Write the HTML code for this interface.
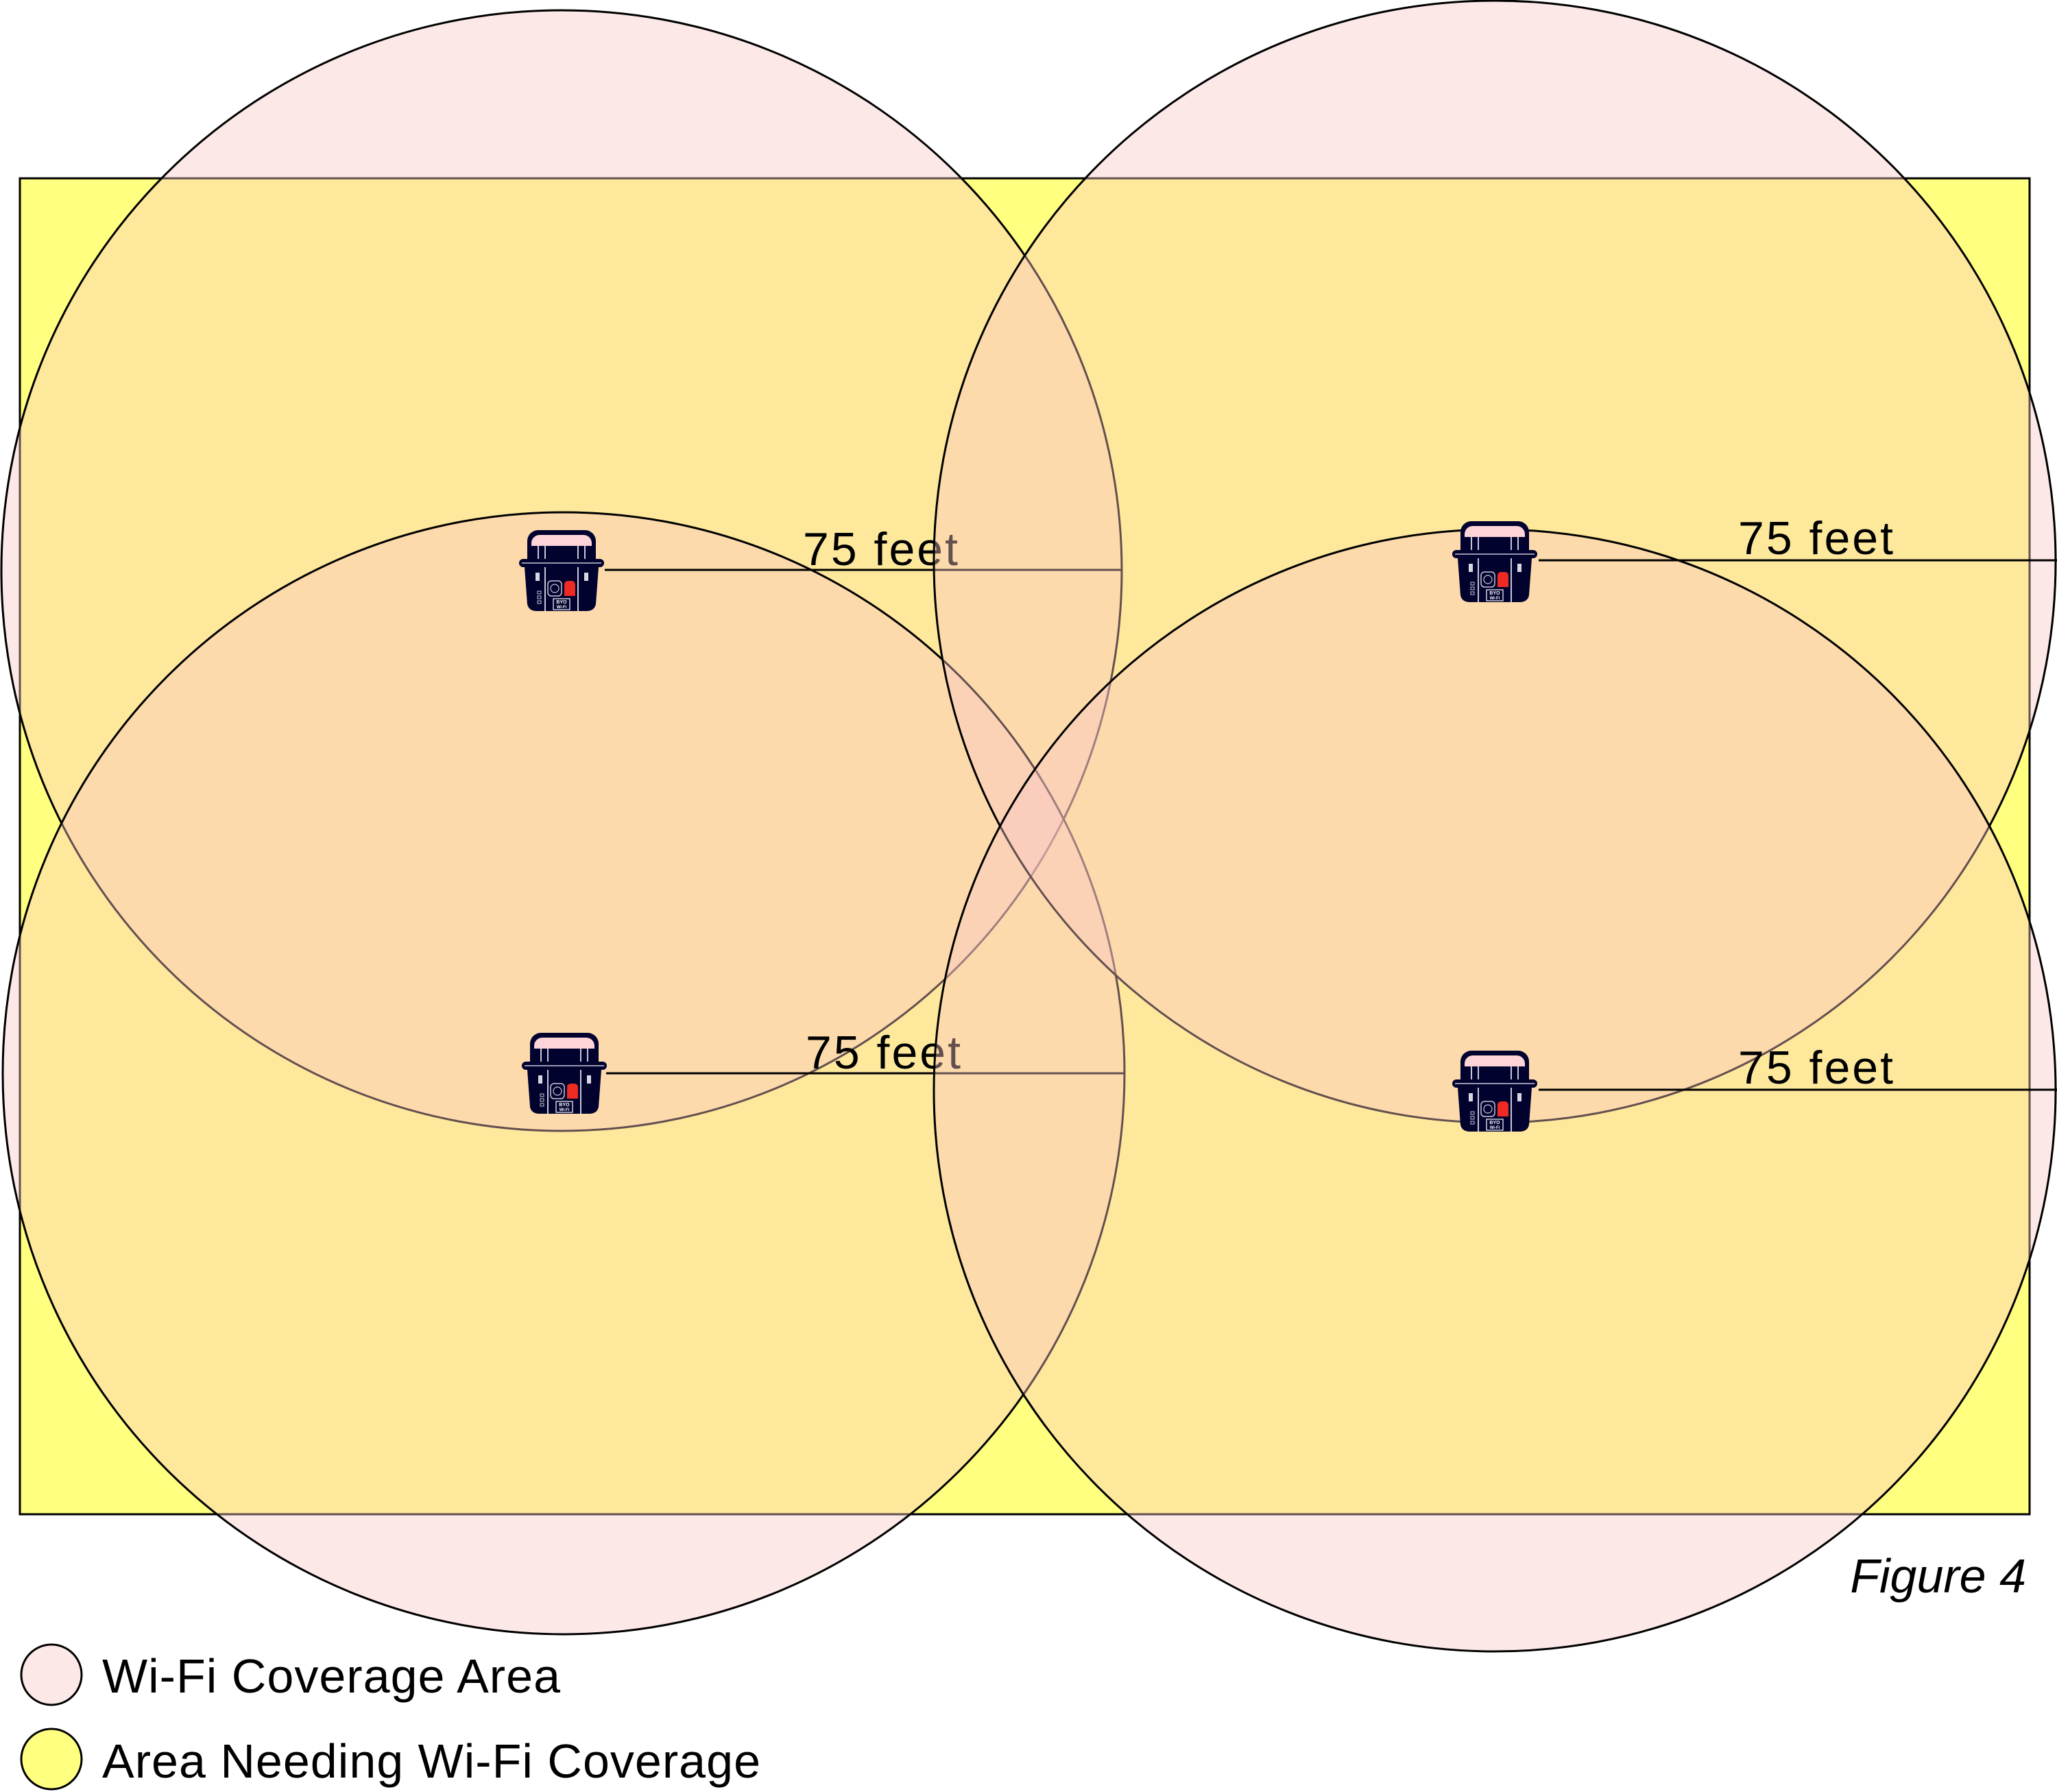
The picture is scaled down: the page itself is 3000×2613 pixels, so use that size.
<!DOCTYPE html>
<html><head><meta charset="utf-8"><style>html,body{margin:0;padding:0;background:#fff}svg{display:block}</style></head>
<body>
<svg width="3000" height="2613" viewBox="0 0 3000 2613" xmlns="http://www.w3.org/2000/svg" font-family="Liberation Sans, sans-serif">
<defs>
<g id="dev">
  <rect x="14" y="2" width="100" height="42" rx="16" fill="#02022e"/>
  <rect x="20" y="9" width="88" height="30" rx="12" fill="#fdd4d8"/>
  <rect x="14" y="25" width="100" height="22" fill="#02022e"/>
  <line x1="30" y1="25" x2="30" y2="46" stroke="#c8c8d8" stroke-width="2"/>
  <line x1="40" y1="25" x2="40" y2="46" stroke="#c8c8d8" stroke-width="2"/>
  <line x1="88" y1="25" x2="88" y2="46" stroke="#c8c8d8" stroke-width="2"/>
  <line x1="98" y1="25" x2="98" y2="46" stroke="#c8c8d8" stroke-width="2"/>
  <rect x="2" y="44" width="124" height="12" rx="6" fill="#02022e"/>
  <line x1="6" y1="50" x2="122" y2="50" stroke="#c8c8d8" stroke-width="1.5"/>
  <path d="M10 56 H118 L114 110 Q112 120 100 120 H28 Q16 120 14 110 Z" fill="#02022e"/>
  <line x1="40" y1="56" x2="40" y2="120" stroke="#c8c8d8" stroke-width="2"/>
  <line x1="88" y1="56" x2="88" y2="120" stroke="#c8c8d8" stroke-width="2"/>
  <rect x="26" y="64" width="6" height="12" fill="#d8d8e0"/>
  <rect x="97" y="64" width="6" height="12" fill="#d8d8e0"/>
  <rect x="44" y="76" width="20" height="22" rx="5" fill="none" stroke="#c8c8d8" stroke-width="1.5"/>
  <circle cx="54" cy="87" r="6" fill="none" stroke="#c8c8d8" stroke-width="1.2"/>
  <path d="M68 98 V82 Q68 76 74 76 H78 Q84 76 84 82 V98 Z" fill="#ee2a24"/>
  <rect x="29" y="91" width="5" height="4" fill="none" stroke="#c8c8d8" stroke-width="1"/>
  <rect x="29" y="98" width="5" height="4" fill="none" stroke="#c8c8d8" stroke-width="1"/>
  <rect x="29" y="105" width="5" height="4" fill="none" stroke="#c8c8d8" stroke-width="1"/>
  <rect x="52" y="102" width="24" height="16" fill="none" stroke="#fff" stroke-width="1.2"/>
  <text x="64" y="109" font-size="7" fill="#fff" text-anchor="middle" font-weight="bold">BYO</text>
  <text x="64" y="116" font-size="6" fill="#fff" text-anchor="middle" font-weight="bold">Wi-Fi</text>
</g>
</defs>
<rect x="29" y="260" width="2931" height="1948" fill="#ffff80" stroke="#000" stroke-width="3"/>

<circle cx="819" cy="832" r="817" fill="rgb(250,197,197)" fill-opacity="0.4" stroke="#000" stroke-width="3"/>
<circle cx="822" cy="1565" r="818" fill="rgb(250,197,197)" fill-opacity="0.4" stroke="#000" stroke-width="3"/>

<line x1="882" y1="831" x2="1636" y2="831" stroke="#000" stroke-width="3"/>
<text x="1171" y="824" font-size="68" textLength="226">75 feet</text>
<line x1="884" y1="1565" x2="1639" y2="1565" stroke="#000" stroke-width="3"/>
<text x="1175" y="1558" font-size="68" textLength="226">75 feet</text>

<circle cx="2180" cy="819" r="818" fill="rgb(250,197,197)" fill-opacity="0.4" stroke="#000" stroke-width="3"/>
<circle cx="2180" cy="1590" r="818" fill="rgb(250,197,197)" fill-opacity="0.4" stroke="#000" stroke-width="3"/>

<line x1="2244" y1="817" x2="3000" y2="817" stroke="#000" stroke-width="3"/>
<text x="2535" y="808" font-size="68" textLength="226">75 feet</text>
<line x1="2244" y1="1589" x2="3000" y2="1589" stroke="#000" stroke-width="3"/>
<text x="2535" y="1580" font-size="68" textLength="226">75 feet</text>

<use href="#dev" x="755" y="771"/>
<use href="#dev" x="759" y="1504"/>
<use href="#dev" x="2116" y="758"/>
<use href="#dev" x="2116" y="1530"/>

<text x="2955" y="2322" font-size="70" font-style="italic" text-anchor="end">Figure 4</text>
<circle cx="75" cy="2442" r="44" fill="#fde8e8" stroke="#000" stroke-width="3"/>
<text x="149" y="2468" font-size="70" textLength="668">Wi-Fi Coverage Area</text>
<circle cx="75" cy="2565" r="44" fill="#ffff80" stroke="#000" stroke-width="3"/>
<text x="149" y="2592" font-size="70" textLength="960">Area Needing Wi-Fi Coverage</text>
</svg>
</body></html>
